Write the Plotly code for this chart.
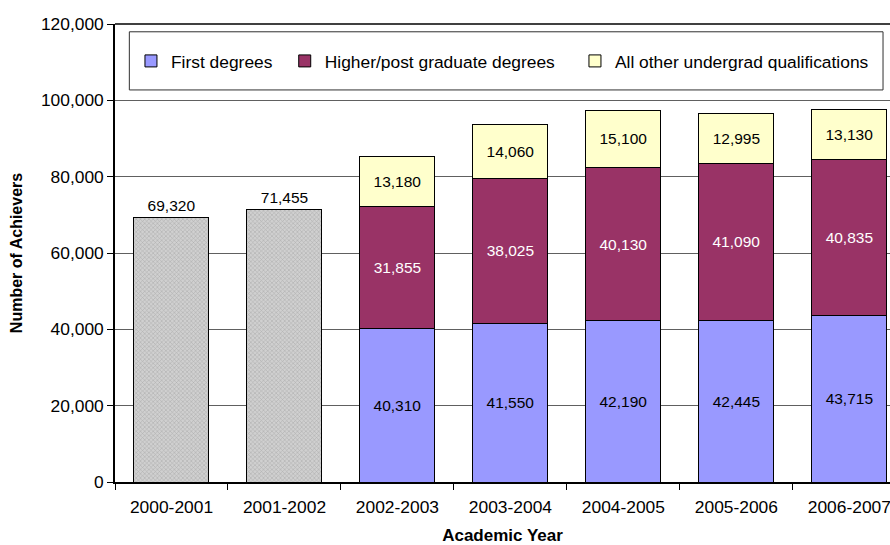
import plotly.graph_objects as go

# Academic years on the category axis
years = ["2000-2001", "2001-2002", "2002-2003", "2003-2004",
         "2004-2005", "2005-2006", "2006-2007"]

# Years reported only as an overall total
total_years = ["2000-2001", "2001-2002"]
total_achievers = [69320, 71455]

# Years broken down by qualification type
split_years = ["2002-2003", "2003-2004", "2004-2005", "2005-2006", "2006-2007"]
first_degrees = [40310, 41550, 42190, 42445, 43715]
higher_degrees = [31855, 38025, 40130, 41090, 40835]
other_undergrad = [13180, 14060, 15100, 12995, 13130]

y_ticks = [0, 20000, 40000, 60000, 80000, 100000, 120000]

FONT = "Liberation Sans, Arial, sans-serif"
LABEL_SIZE = 15.5
AXIS_SIZE = 17.4
outline = dict(color="#000000", width=1)


def fmt(vals):
    return [f"{v:,}" for v in vals]


fig = go.Figure()

fig.add_trace(go.Bar(
    x=total_years, y=total_achievers, name="Total",
    showlegend=False,
    marker=dict(color="#C8C8C8", line=outline,
                pattern=dict(shape="x", size=3, solidity=0.35,
                             fgcolor="#8C8C8C", bgcolor="#D0D0D0")),
    text=fmt(total_achievers), textposition="outside",
    textfont=dict(family=FONT, size=LABEL_SIZE, color="#000000"),
    cliponaxis=False,
))

fig.add_trace(go.Bar(
    x=split_years, y=first_degrees, name="First degrees",
    legend="legend",
    marker=dict(color="#9999FF", line=outline),
    text=fmt(first_degrees), textposition="inside",
    insidetextanchor="middle", textangle=0,
    textfont=dict(family=FONT, size=LABEL_SIZE, color="#000000"),
))

fig.add_trace(go.Bar(
    x=split_years, y=higher_degrees, name="Higher/post graduate degrees",
    legend="legend2",
    marker=dict(color="#993366", line=outline),
    text=fmt(higher_degrees), textposition="inside",
    insidetextanchor="middle", textangle=0,
    textfont=dict(family=FONT, size=LABEL_SIZE, color="#FFFFFF"),
))

fig.add_trace(go.Bar(
    x=split_years, y=other_undergrad, name="All other undergrad qualifications",
    legend="legend3",
    marker=dict(color="#FFFFCC", line=outline),
    text=fmt(other_undergrad), textposition="inside",
    insidetextanchor="middle", textangle=0,
    textfont=dict(family=FONT, size=LABEL_SIZE, color="#000000"),
))

# Legend frame
fig.add_shape(type="rect", xref="paper", yref="paper",
              x0=0.0185, x1=0.991, y0=0.856, y1=0.983,
              line=dict(color="#303030", width=1), fillcolor="#FFFFFF",
              layer="above")

legend_common = dict(orientation="h", xanchor="left",
                     y=0.919, yanchor="middle",
                     bgcolor="rgba(0,0,0,0)", borderwidth=0,
                     font=dict(family=FONT, size=AXIS_SIZE, color="#000000"),
                     itemwidth=30)

fig.update_layout(
    width=890, height=545,
    margin=dict(l=115, r=0, t=24, b=63),
    paper_bgcolor="#FFFFFF", plot_bgcolor="#FFFFFF",
    barmode="stack", bargap=0.336,
    font=dict(family=FONT, size=16, color="#000000"),
    uniformtext=dict(minsize=14, mode="show"),
    showlegend=True,
    legend=dict(x=0.0206, **legend_common),
    legend2=dict(x=0.219, **legend_common),
    legend3=dict(x=0.5935, **legend_common),
    xaxis=dict(
        categoryorder="array", categoryarray=years,
        range=[-0.5, 6.36],
        showline=True, linecolor="#000000", linewidth=1.5,
        ticks="outside", tickson="boundaries", ticklen=6,
        tickcolor="#000000",
        ticklabelstandoff=8,
        tickfont=dict(family=FONT, size=AXIS_SIZE),
        automargin=False,
        title=dict(text="<b>Academic Year</b>", standoff=19,
                   font=dict(family=FONT, size=17)),
    ),
    yaxis=dict(
        range=[0, 120000], tickvals=y_ticks,
        tickformat=",d",
        showline=True, linecolor="#000000", linewidth=1.5,
        ticks="outside", ticklen=6, tickcolor="#000000",
        showgrid=True, gridcolor="#606060", gridwidth=1,
        zeroline=False,
        tickfont=dict(family=FONT, size=AXIS_SIZE),
        automargin=False,
        title=dict(text="<b>Number of Achievers</b>", standoff=14,
                   font=dict(family=FONT, size=16)),
    ),
)

# Top frame line of the plot area
fig.add_shape(type="line", xref="paper", yref="paper",
              x0=0, x1=1, y0=1, y1=1,
              line=dict(color="#000000", width=1.5))

fig.write_html("out.html")
